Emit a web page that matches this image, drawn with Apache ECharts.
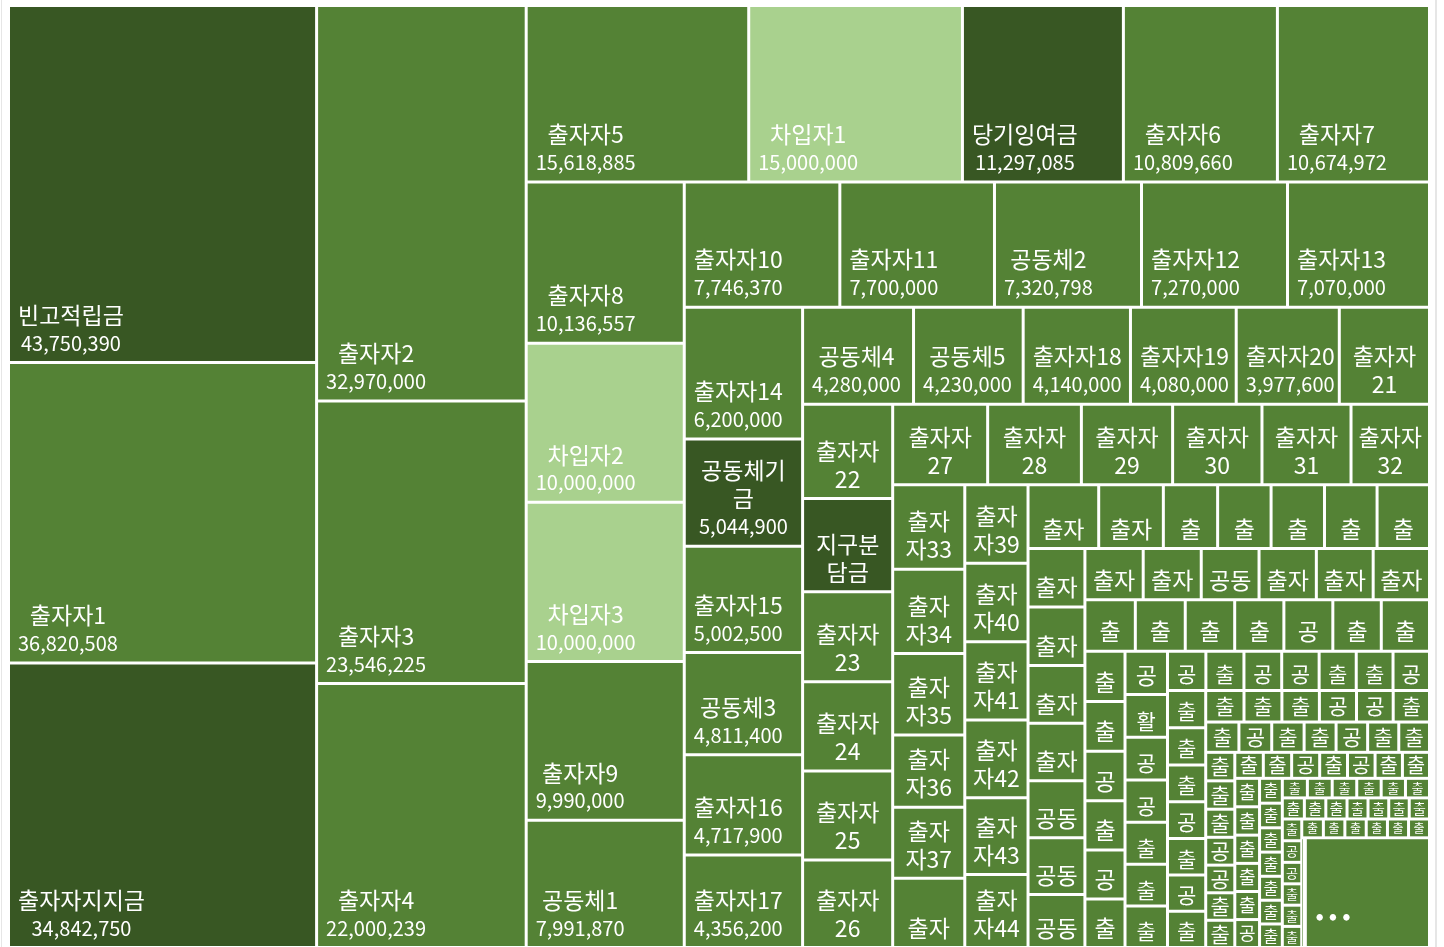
<!DOCTYPE html>
<html>
<head>
<meta charset="utf-8">
<title>Treemap</title>
<script src="https://cdn.jsdelivr.net/npm/echarts@6/dist/echarts.min.js"></script>
<style>
  html, body { margin: 0; padding: 0; background: #fff; }
  #main { width: 1444px; height: 947px; }
  .edge { position: absolute; top: 0; height: 947px; background: #e6e6e6; }
</style>
</head>
<body>
<div class="edge" style="left:1px;width:1px;"></div>
<div class="edge" style="left:1435px;width:2px;"></div>
<div id="main"></div>
<script>
// 항목 이름 (큰 값부터, 마지막 '...'은 너무 작아 묶인 나머지)
const names = [
  '빈고적립금', '출자자1', '출자자지지금', '출자자2', '출자자3', '출자자4',
  '출자자5', '차입자1', '당기잉여금', '출자자6', '출자자7',
  '출자자8', '차입자2', '차입자3', '출자자9', '공동체1',
  '출자자10', '출자자11', '공동체2', '출자자12', '출자자13',
  '출자자14', '공동체기금', '출자자15', '공동체3', '출자자16',
  '출자자17', '공동체4', '공동체5', '출자자18', '출자자19', '출자자20',
  '출자자21', '출자자22', '지구분담금', '출자자23', '출자자24', '출자자25',
  '출자자26', '출자자27', '출자자28', '출자자29', '출자자30', '출자자31',
  '출자자32', '출자자33', '출자자34', '출자자35', '출자자36', '출자자37',
  '출자자38', '출자자39', '출자자40', '출자자41', '출자자42', '출자자43', '출자자44',
  '출자자45', '출자자46', '출자자47', '출자자48', '출자자49', '출자자50',
  '출자자51', '출자자52', '출자자53', '출자자54', '출자자55', '공동체6', '공동체7',
  '공동체8', '출자자56', '출자자57', '공동체9', '출자자58', '출자자59', '출자자60',
  '출자자61', '출자자62', '출자자63', '출자자64', '공동체10', '출자자65', '출자자66',
  '출자자67', '출자자68', '공동체11', '출자자69', '공동체12', '출자자70',
  '공동체13', '활동비', '공동체14', '공동체15', '출자자71', '출자자72', '출자자73',
  '공동체16', '출자자74', '공동체17', '공동체18', '출자자75', '출자자76', '공동체19', '출자자77',
  '출자자78', '출자자79', '공동체20', '출자자80', '공동체21', '출자자81',
  '출자자82', '출자자83', '출자자84', '공동체22', '공동체23', '출자자85',
  '출자자86', '공동체24', '출자자87', '출자자88', '공동체25', '출자자89', '출자자90',
  '출자자91', '출자자92', '출자자93', '공동체26', '공동체27', '출자자94', '출자자95',
  '출자자96', '출자자97', '공동체28', '출자자98', '공동체29', '출자자99', '출자자100',
  '출자자101', '출자자102', '출자자103', '출자자104', '출자자105', '공동체30',
  '출자자106', '출자자107', '출자자108', '출자자109', '출자자110', '출자자111', '출자자112',
  '출자자113', '출자자114', '출자자115', '출자자116', '출자자117', '출자자118', '출자자119',
  '출자자120', '출자자121', '출자자122', '출자자123', '출자자124', '출자자125', '출자자126',
  '공동체31', '공동체32', '출자자127', '출자자128', '출자자129', '출자자130',
  '출자자131', '출자자132', '출자자133', '출자자134', '출자자135', '출자자136',
  '...'
];

// 금액 (원)
const values = [
  43750390, 36820508, 34842750, 32970000, 23546225, 22000239,
  15618885, 15000000, 11297085, 10809660, 10674972,
  10136557, 10000000, 10000000, 9990000, 7991870,
  7746370, 7700000, 7320798, 7270000, 7070000,
  6200000, 5044900, 5002500, 4811400, 4717900,
  4356200, 4280000, 4230000, 4140000, 4080000, 3977600,
  3480000, 3380000, 3340000, 3220000, 3200000, 3190000,
  3130000, 3040000, 3000000, 2920000, 2860000, 2850000,
  2512000, 2423000, 2420000, 2335000, 2069000, 2039000,
  1984000, 1976000, 1972000, 1968000, 1955000, 1931000, 1838000,
  1793000, 1640000, 1377000, 1356000, 1355000, 1334000,
  1330000, 1325000, 1320000, 1310000, 1300000, 1290000, 1280000,
  1200000, 1190000, 1185000, 1180000, 1170000, 1160000, 1150000,
  1030000, 1020000, 1010000, 1005000, 1000000, 990000, 985000,
  800000, 795000, 790000, 785000, 780000, 775000,
  730000, 725000, 720000, 715000, 710000, 705000, 700000,
  600000, 595000, 590000, 585000, 580000, 575000, 570000, 565000,
  565000, 560000, 560000, 555000, 550000, 550000,
  480000, 475000, 470000, 465000, 460000, 455000,
  400000, 395000, 390000, 385000, 380000, 375000, 370000,
  330000, 328000, 325000, 322000, 320000, 318000, 315000,
  295000, 293000, 290000, 288000, 285000, 283000, 280000,
  280000, 279000, 278000, 277000, 276000, 275000,
  225000, 223000, 220000, 219000, 217000, 215000, 213000,
  195000, 193000, 191000, 190000, 189000, 187000, 185000,
  180000, 178000, 176000, 174000, 172000, 170000, 168000,
  167000, 166000, 165000, 164000, 163000, 162000,
  161000, 160000, 159000, 158000, 157000, 156000,
  5415000
];

// 색 구분
const darkNames = ['빈고적립금', '출자자지지금', '당기잉여금', '지구분담금', '공동체기금'];
const lightNames = ['차입자1', '차입자2', '차입자3'];

const FONT = '"Noto Sans CJK KR", sans-serif';
const NAME_SIZE = 23;
const VALUE_SIZE = 20;
const LINE_H = 28;

function colorOf(name) {
  if (darkNames.includes(name)) return '#385723';
  if (lightNames.includes(name)) return '#a9d18e';
  return '#548235';
}

const measureCtx = document.createElement('canvas').getContext('2d');
function textWidth(s, size) {
  measureCtx.font = size + 'px ' + FONT;
  return measureCtx.measureText(s).width;
}

// 엑셀처럼: 이름은 글자 단위로 줄바꿈(숫자는 붙여서), 금액은 ... 로 자름
function wrapName(name, maxW) {
  const units = name.match(/[0-9]+|./g);
  const lines = [];
  let cur = '';
  units.forEach((u) => {
    if (cur && textWidth(cur + u, NAME_SIZE) > maxW) {
      lines.push(cur);
      cur = u;
    } else {
      cur += u;
    }
  });
  if (cur) lines.push(cur);
  return lines;
}

function cutValue(str, maxW) {
  if (textWidth(str, VALUE_SIZE) <= maxW) return str;
  let s = str;
  while (s.length > 1 && textWidth(s + '...', VALUE_SIZE) > maxW) s = s.slice(0, -1);
  return s + '...';
}

const chart = echarts.init(document.getElementById('main'));
const labelText = {};

function buildData(layouts) {
  return names.map((n, i) => {
    const item = { name: n, value: values[i], itemStyle: { color: colorOf(n) } };
    const lay = layouts && layouts[n];
    if (!lay) return item;
    const cw = lay.width;
    const ch = lay.height;
    if (n === '...') {
      labelText[n] = '{d|• • •}';
      item.label = { position: [10 + textWidth('• • •', 22) / 2, ch - 16 - LINE_H], align: 'center', verticalAlign: 'top' };
      return item;
    }
    const maxW = cw - 10;
    const maxLines = Math.floor((ch - 12) / LINE_H);
    if (maxLines < 1 || cw - 4 < NAME_SIZE) {
      // 아주 작은 칸: 첫 글자만
      const side = Math.floor(Math.min(cw, ch));
      if (side < 12) { labelText[n] = ''; return item; }
      const fs = Math.min(NAME_SIZE - 2, side - 3);
      labelText[n] = '{t|' + n.charAt(0) + '}';
      item.label = {
        position: [cw / 2, 0.5],
        align: 'center',
        verticalAlign: 'top',
        rich: { t: { fontSize: fs, lineHeight: Math.max(1, Math.floor(Math.min(ch, fs + 8)) - 1), fontFamily: FONT, color: '#fff' } }
      };
      if (ch > fs + 8) item.label.position = [cw / 2, ch - fs - 8];
      return item;
    }
    const nameLines = wrapName(n, maxW);
    let lines = nameLines.map((s) => ['n', s]);
    lines.push(['v', cutValue(values[i].toLocaleString('en-US'), maxW)]);
    lines = lines.slice(0, maxLines);
    labelText[n] = lines.map((l) => '{' + l[0] + '|' + l[1] + '}').join('\n');
    const blockW = Math.max(...lines.map((l) => textWidth(l[1], l[0] === 'n' ? NAME_SIZE : VALUE_SIZE)));
    const x = nameLines.length > 1 ? cw / 2 : 8 + blockW / 2;
    item.label = { position: [x, ch - 4 - lines.length * LINE_H], align: 'center', verticalAlign: 'top' };
    return item;
  });
}

function makeOption(data) {
  return {
    animation: false,
    series: [
      {
        type: 'treemap',
        left: 10,
        top: 7,
        width: 1418,
        height: 939,
        sort: false,
        squareRatio: 0.9225,
        roam: false,
        nodeClick: false,
        breadcrumb: { show: false },
        visibleMin: 1,
        itemStyle: {
          borderWidth: 0,
          gapWidth: 3,
          borderColor: '#fff'
        },
        label: {
          show: true,
          distance: 0,
          padding: 0,
          overflow: 'none',
          color: '#fff',
          fontFamily: FONT,
          formatter: (p) => labelText[p.name] || '',
          rich: {
            n: { fontSize: NAME_SIZE, lineHeight: LINE_H, fontFamily: FONT, color: '#fff' },
            v: { fontSize: VALUE_SIZE, lineHeight: LINE_H, fontFamily: FONT, color: '#fff' },
            d: { fontSize: 22, lineHeight: LINE_H, fontWeight: 'bold', fontFamily: FONT, color: '#fff' }
          }
        },
        data: data
      }
    ]
  };
}

// 1차: 배치만 계산
chart.setOption(makeOption(buildData(null)));

// 2차: 칸 크기에 맞춰 라벨 만들기
const treeData = chart.getModel().getSeriesByIndex(0).getData();
const layouts = {};
for (let i = 0; i < treeData.count(); i++) {
  const lay = treeData.getItemLayout(i);
  if (lay) layouts[treeData.getName(i)] = lay;
}
chart.setOption(makeOption(buildData(layouts)), true);
</script>
</body>
</html>
